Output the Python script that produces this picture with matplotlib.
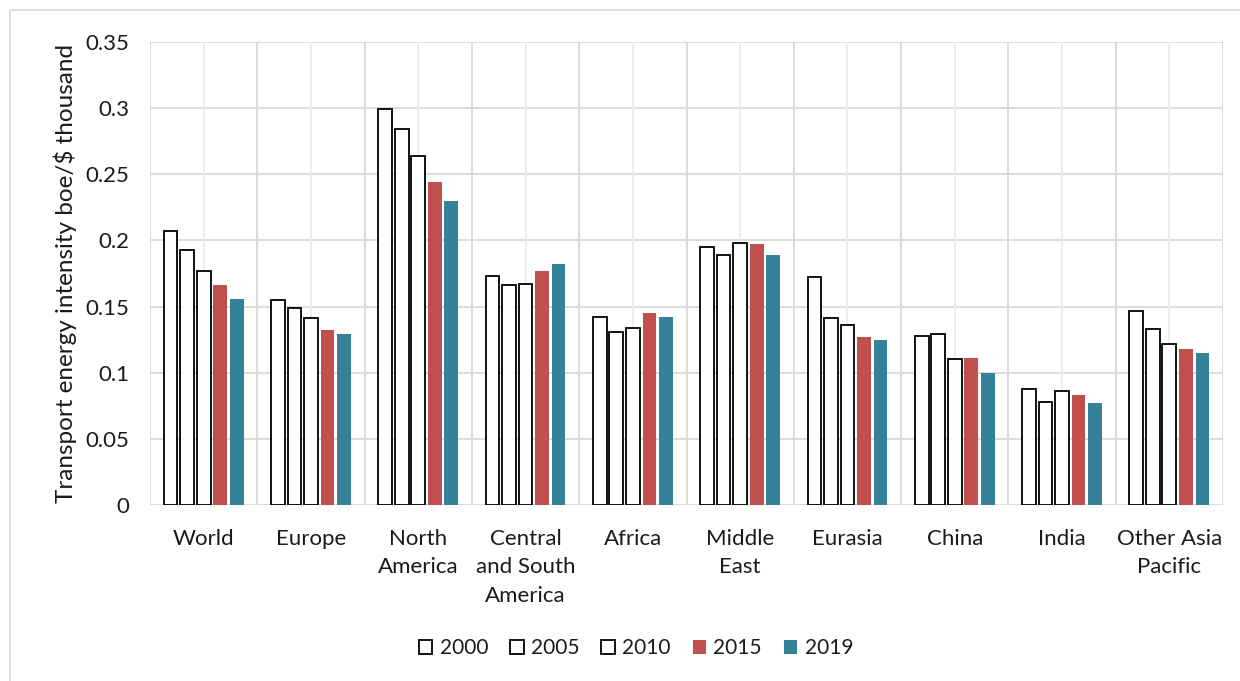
import numpy as np
import matplotlib
matplotlib.use("Agg")
import matplotlib.pyplot as plt
from matplotlib.patches import Rectangle, Patch

regions = ["World", "Europe", "North\nAmerica", "Central\nand South\nAmerica", "Africa",
           "Middle\nEast", "Eurasia", "China", "India", "Other Asia\nPacific"]
years = ["2000", "2005", "2010", "2015", "2019"]

v2000 = [0.207, 0.155, 0.299, 0.173, 0.142, 0.195, 0.172, 0.128, 0.088, 0.147]
v2005 = [0.193, 0.149, 0.284, 0.166, 0.131, 0.189, 0.141, 0.129, 0.078, 0.133]
v2010 = [0.177, 0.141, 0.264, 0.167, 0.134, 0.198, 0.136, 0.110, 0.086, 0.122]
v2015 = [0.166, 0.132, 0.244, 0.177, 0.145, 0.197, 0.127, 0.111, 0.083, 0.118]
v2019 = [0.156, 0.129, 0.230, 0.182, 0.142, 0.189, 0.125, 0.100, 0.077, 0.115]
series = [v2000, v2005, v2010, v2015, v2019]

RED = "#C0504D"
TEAL = "#35819A"
TEXT = "#1a1a1a"
styles = [
    dict(facecolor="white", edgecolor="black", linewidth=1.3),
    dict(facecolor="white", edgecolor="black", linewidth=1.3),
    dict(facecolor="white", edgecolor="black", linewidth=1.3),
    dict(facecolor=RED, edgecolor="none", linewidth=0),
    dict(facecolor=TEAL, edgecolor="none", linewidth=0),
]

plt.rcParams["font.family"] = ["Lato", "DejaVu Sans"]

W, H = 1240, 681
fig = plt.figure(figsize=(W / 100, H / 100), dpi=100)
ax = fig.add_axes([150 / W, 1 - 505 / H, (1223 - 150) / W, (505 - 42) / H])

# outer frame of the chart area
fig.patches.append(Rectangle((10 / W, -0.01), 1.05, 1 - 10 / H + 0.01, transform=fig.transFigure,
                             facecolor="none", edgecolor="#d9d9d9", linewidth=1.2, zorder=0))

x = np.arange(len(regions))
pitch = 0.154
width = 0.128
for i, (vals, st) in enumerate(zip(series, styles)):
    ax.bar(x + (i - 2) * pitch, vals, width=width, zorder=3, label=years[i], **st)

ax.set_xlim(-0.5, len(regions) - 0.5)
ax.set_ylim(0, 0.35)
yt = np.arange(0, 0.351, 0.05)
ax.set_yticks(yt)
ax.set_yticklabels(["0", "0.05", "0.1", "0.15", "0.2", "0.25", "0.3", "0.35"])
ax.set_xticks(x)
ax.set_xticklabels(regions, linespacing=1.55, va="top")
ax.tick_params(axis="both", length=0, labelsize=16, colors=TEXT)
ax.tick_params(axis="x", pad=17)
ax.tick_params(axis="y", pad=15)

# gridlines: horizontal at each 0.05, vertical at group boundaries and centres
for yv in yt:
    ax.axhline(yv, color="#d9d9d9", linewidth=1.3, zorder=1)
for b in np.arange(-0.5, len(regions), 1.0):
    ax.axvline(b, color="#d9d9d9", linewidth=1.3, zorder=1)
for c in x:
    ax.axvline(c, color="#ececec", linewidth=1.3, zorder=1)

for s in ax.spines.values():
    s.set_visible(False)

ax.set_ylabel("Transport energy intensity boe/$ thousand", fontsize=17.5, color=TEXT, labelpad=6)

handles = [Patch(label=y, **st) for y, st in zip(years, styles)]
fig.legend(handles=handles, loc="center", bbox_to_anchor=(636 / W, 1 - 648 / H), ncol=5,
           frameon=False, fontsize=15, handlelength=0.65, handleheight=0.65,
           handletextpad=0.35, columnspacing=1.05, labelcolor=TEXT)

fig.savefig("out.png", dpi=100, facecolor="white")
